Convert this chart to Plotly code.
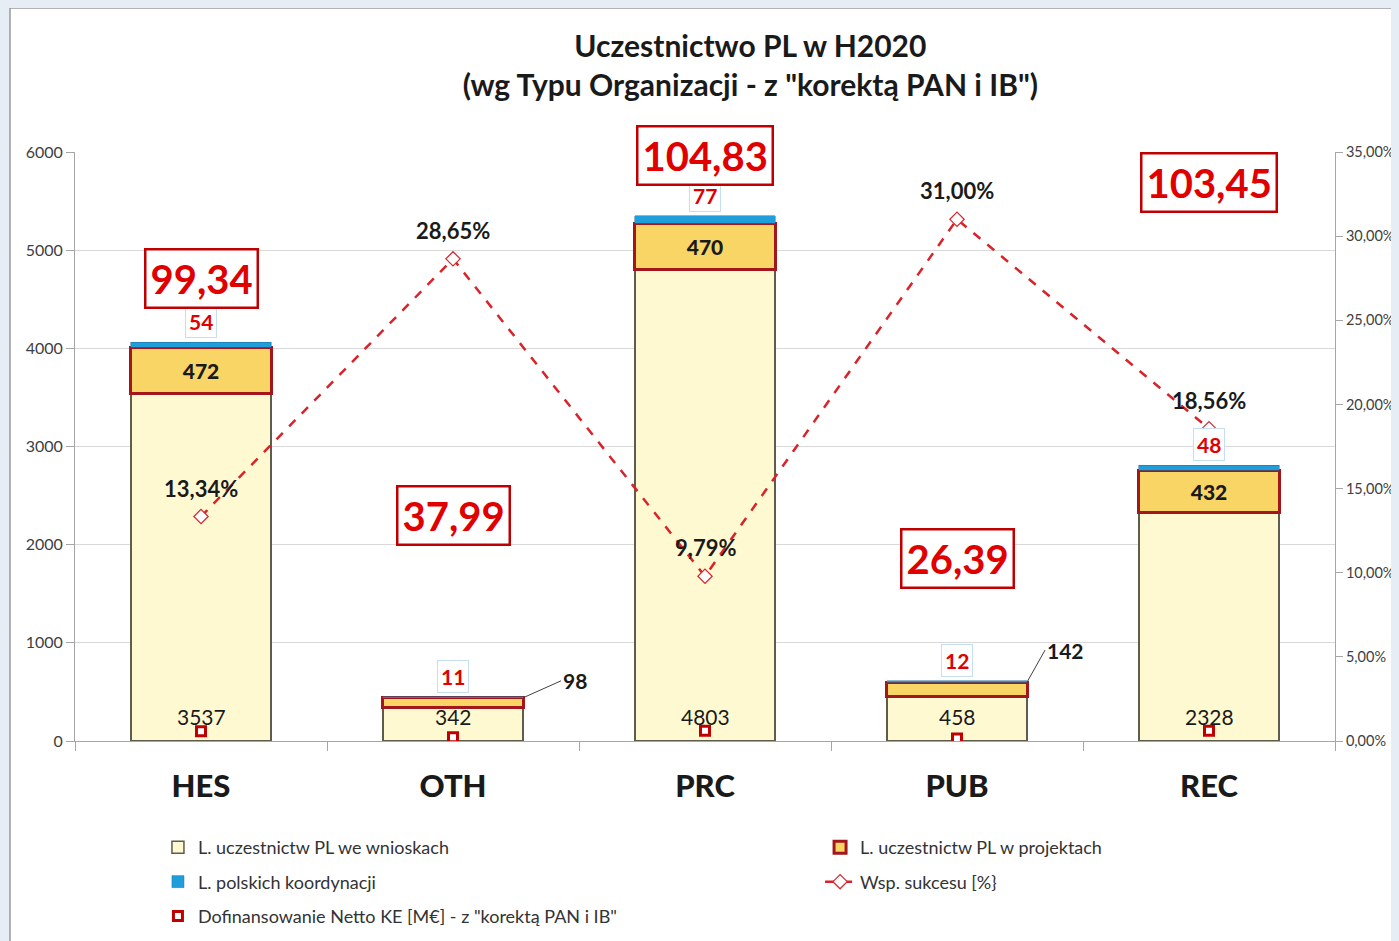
import plotly.graph_objects as go

# data
categories = ['HES', 'OTH', 'PRC', 'PUB', 'REC']
wnioski = [3537, 342, 4803, 458, 2328]          # L. uczestnictw PL we wnioskach
projekty = [472, 98, 470, 142, 432]             # L. uczestnictw PL w projektach
koordynacje = [54, 11, 77, 12, 48]              # L. polskich koordynacji
sukces = [13.34, 28.65, 9.79, 31.00, 18.56]     # Wsp. sukcesu [%]
dofinansowanie = [99.34, 37.99, 104.83, 26.39, 103.45]  # M EUR

# where the boxed funding labels were dragged to (left-axis units)
dof_label_y = [4715, 2301, 5967, 1863, 5692]

FONT = 'Lato'
RED = '#E00000'
BG = '#E6EDF5'


def pl(v, dec=2):
    return f'{v:.{dec}f}'.replace('.', ',')


fig = go.Figure()

fig.add_trace(go.Bar(
    x=categories, y=wnioski, name='L. uczestnictw PL we wnioskach',
    marker=dict(color='#FFF9D2', line=dict(color='#5E5C4A', width=1.5)),
    legend='legend', legendgroup='a'))

fig.add_trace(go.Bar(
    x=categories, y=projekty, name='L. uczestnictw PL w projektach',
    marker=dict(color='#F8D565', line=dict(color='#A3161B', width=3)),
    text=[str(v) if v > 300 else '' for v in projekty], textposition='inside',
    insidetextanchor='middle', textangle=0,
    textfont=dict(size=21, color='#1A1A1A', family=FONT + ' Black'),
    legend='legend2', legendgroup='b'))

fig.add_trace(go.Bar(
    x=categories, y=koordynacje, name='L. polskich koordynacji',
    marker=dict(color='#1E9FDB', line=dict(color='#1A6FA0', width=0.5)),
    legend='legend', legendgroup='c'))

succ = [s / 100 for s in sukces]
fig.add_trace(go.Scatter(
    x=categories, y=succ, yaxis='y2',
    name='Wsp. sukcesu [%}', mode='lines+markers',
    line=dict(color='#D8232A', width=2.5, dash='dash'),
    marker=dict(symbol='diamond', size=11, color='white',
                line=dict(color='#D8232A', width=1.2)),
    legend='legend2', legendgroup='d'))

fig.add_trace(go.Scatter(
    x=categories, y=dofinansowanie, mode='markers',
    name='Dofinansowanie Netto KE [M€] - z "korektą PAN i IB"',
    marker=dict(symbol='square', size=9, color='white',
                line=dict(color='#C00000', width=3)),
    legend='legend', legendgroup='e'))

annotations = []
totals = [a + b + c for a, b, c in zip(wnioski, projekty, koordynacje)]
for i, cat in enumerate(categories):
    # applications count sitting at the base of the bar
    annotations.append(dict(
        x=cat, y=0, yanchor='bottom', yshift=10, showarrow=False,
        text=str(wnioski[i]), font=dict(size=21, color='#1A1A1A', family=FONT)))
    # coordination count above the bar
    annotations.append(dict(
        x=cat, y=totals[i], yanchor='bottom', yshift=4, showarrow=False,
        text=f'<b>{koordynacje[i]}</b>', font=dict(size=21, color=RED, family=FONT),
        bgcolor='white', bordercolor='#C6DEF2', borderwidth=1, borderpad=3))
    # boxed funding value
    annotations.append(dict(
        x=cat, y=dof_label_y[i], showarrow=False,
        text=f'<b>{pl(dofinansowanie[i])}</b>',
        font=dict(size=40, color=RED, family=FONT),
        bgcolor='white', bordercolor='#C00000', borderwidth=2.5, borderpad=4))
    # success rate label above the diamond
    annotations.append(dict(
        x=cat, y=succ[i], yref='y2', yanchor='bottom', yshift=13, showarrow=False,
        text=f'<b>{pl(sukces[i])}%</b>', font=dict(size=22, color='#1A1A1A', family=FONT)))

# small project counts get leader lines
leaders = {1: (38, -17), 3: (18, -32)}
for i, (ax, ay) in leaders.items():
    annotations.append(dict(
        x=i + 0.278, y=wnioski[i] + projekty[i], ax=ax, ay=ay,
        xanchor='left', showarrow=True, arrowhead=0, arrowwidth=1,
        arrowcolor='#404040', text=f'<b>{projekty[i]}</b>',
        font=dict(size=21, color='#1A1A1A', family=FONT)))

legend_style = dict(xref='container', yref='container', xanchor='left', yanchor='top',
                    traceorder='grouped', tracegroupgap=8, bgcolor='rgba(0,0,0,0)',
                    font=dict(size=18, color='#333333', family=FONT))

fig.update_layout(
    width=1391, height=933,
    margin=dict(l=67, r=64, t=144, b=200, autoexpand=False),
    barmode='stack', bargap=0.444,
    separators=', ',
    font=dict(family=FONT, color='#404040'),
    paper_bgcolor=BG, plot_bgcolor='white',
    title=dict(text='<b>Uczestnictwo PL w H2020<br>(wg Typu Organizacji - z "korektą PAN i IB")</b>',
               x=0.536, xref='paper', xanchor='center',
               y=0.947, yref='container', yanchor='middle',
               font=dict(size=30, color='#1A1A1A', family=FONT)),
    xaxis=dict(type='category', tickson='boundaries', ticks='outside', ticklen=9,
               tickcolor='#A6A6A6', showline=True, linecolor='#A6A6A6', linewidth=1,
               ticklabelstandoff=18, automargin=False,
               tickfont=dict(size=31, color='#1A1A1A', family=FONT + ' Black')),
    yaxis=dict(range=[0, 6000], dtick=1000, ticks='outside', ticklen=8,
               tickcolor='#A6A6A6', showline=True, linecolor='#A6A6A6',
               gridcolor='#D9D9D9', zeroline=False, automargin=False,
               tickfont=dict(size=16, color='#404040')),
    yaxis2=dict(range=[0, 0.35], dtick=0.05, tickformat='.2%', overlaying='y',
                side='right', ticks='outside', ticklen=7, tickcolor='#A6A6A6',
                showline=True, linecolor='#A6A6A6', showgrid=False, zeroline=False,
                automargin=False, tickfont=dict(size=14.5, color='#404040')),
    legend=dict(x=0.1078, y=0.120, **legend_style),
    legend2=dict(x=0.5838, y=0.120, **legend_style),
    annotations=annotations,
    shapes=[dict(type='rect', xref='paper', yref='paper', layer='below',
                 x0=-0.0516, x1=1.06, y0=-0.35, y1=1.2445,
                 fillcolor='white', line=dict(color='#9A9A9A', width=1.5))],
)

fig.write_html('out.html', post_script=f"document.body.style.background='{BG}';")
